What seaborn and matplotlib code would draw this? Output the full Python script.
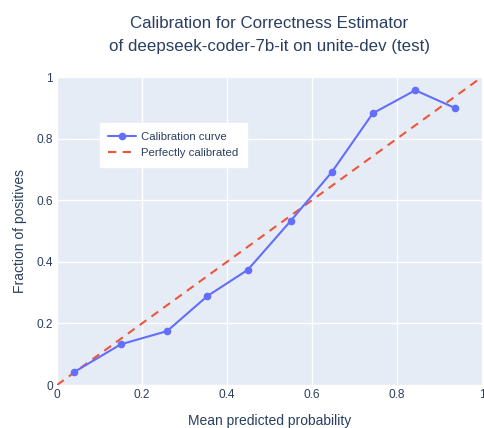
import matplotlib
matplotlib.use("Agg")
import matplotlib.pyplot as plt
import numpy as np
import pandas as pd
import seaborn as sns

# ── data ─────────────────────────────────────────────────────────────────
mean_pred = [0.039, 0.150, 0.259, 0.354, 0.449, 0.550, 0.647, 0.743, 0.843, 0.937]
frac_pos = [0.041, 0.132, 0.175, 0.289, 0.374, 0.533, 0.692, 0.882, 0.957, 0.899]
ideal = [0.0, 1.0]
ticks = [0, 0.2, 0.4, 0.6, 0.8, 1]
tick_labels = ["0", "0.2", "0.4", "0.6", "0.8", "1"]

title_lines = ["Calibration for Correctness Estimator",
               "of deepseek-coder-7b-it on unite-dev (test)"]

# ── style ────────────────────────────────────────────────────────────────
sns.set_style("white")
plt.rcParams["font.family"] = ["Liberation Sans", "DejaVu Sans"]
TEXT = "#2a3f5f"
BLUE = "#636efa"
RED = "#ef553b"

W, H = 484, 428
fig = plt.figure(figsize=(W / 100, H / 100), dpi=100)
ax = fig.add_axes([57 / W, (H - 385) / H, 425 / W, 308 / H])
ax.set_facecolor("#e5ecf6")

curve = pd.DataFrame({"x": mean_pred, "y": frac_pos})
sns.lineplot(data=curve, x="x", y="y", ax=ax, color=BLUE, lw=1.5,
             marker="o", markersize=5.5, markeredgewidth=0,
             label="Calibration curve", zorder=3)
sns.lineplot(x=ideal, y=ideal, ax=ax, color=RED, lw=1.5,
             label="Perfectly calibrated", zorder=2)
ax.lines[-1].set_linestyle((0, (4, 3)))

ax.set_xlim(0, 1)
ax.set_ylim(0, 1)
ax.set_xticks(ticks, tick_labels)
ax.set_yticks(ticks, tick_labels)
ax.grid(True, color="white", lw=1)
ax.set_axisbelow(True)
for s in ax.spines.values():
    s.set_visible(False)
ax.tick_params(length=0, labelsize=8.6, colors=TEXT, pad=3)

ax.set_xlabel("Mean predicted probability", fontsize=10, color=TEXT, labelpad=9)
ax.set_ylabel("Fraction of positives", fontsize=10, color=TEXT, labelpad=7)

leg = ax.legend(loc="upper left", bbox_to_anchor=(0.101, 0.85), frameon=True,
                fancybox=False, fontsize=8.2, handlelength=2.4,
                handletextpad=0.45, borderpad=0.75, labelspacing=0.55,
                borderaxespad=0)
leg.get_frame().set_facecolor("white")
leg.get_frame().set_edgecolor("white")
leg.get_frame().set_alpha(1)
for t in leg.get_texts():
    t.set_color(TEXT)

cx = (57 + 482) / 2 / W
fig.text(cx, 1 - 23 / H, title_lines[0], ha="center", va="center",
         fontsize=12.2, color=TEXT)
fig.text(cx, 1 - 46 / H, title_lines[1], ha="center", va="center",
         fontsize=12.2, color=TEXT)

fig.savefig("out.png", dpi=100)
plt.close(fig)
